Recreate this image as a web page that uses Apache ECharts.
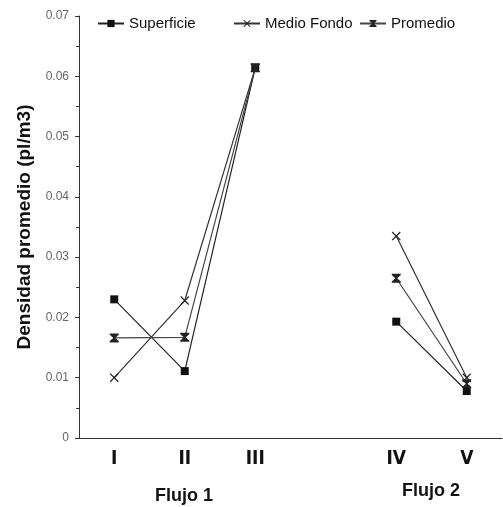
<!DOCTYPE html>
<html>
<head>
<meta charset="utf-8">
<script src="https://cdn.jsdelivr.net/npm/echarts@6/dist/echarts.min.js"></script>
<style>
  html, body { margin: 0; padding: 0; background: #fff; }
  #chart { width: 503px; height: 507px; }
</style>
</head>
<body>
<div id="chart"></div>
<script>
// categorias (la posicion vacia separa Flujo 1 de Flujo 2)
var categorias = ["I", "II", "III", "", "IV", "V"];
// densidad promedio por estacion
var superficie = [0.0230, 0.0111, 0.0614, null, 0.0193, 0.0078];
var medioFondo = [0.0100, 0.0228, 0.0614, null, 0.0335, 0.0100];
var promedio = [0.0166, 0.0167, 0.0614, null, 0.0265, 0.0090];
var yTicks = [0, 0.01, 0.02, 0.03, 0.04, 0.05, 0.06, 0.07];

var cruz = "path://M0,1 L1,0 L5,4 L9,0 L10,1 L6,5 L10,9 L9,10 L5,6 L1,10 L0,9 L4,5 Z";
var reloj = "path://M0,0 L10,0 L10,1.5 L6,5 L10,8.5 L10,10 L0,10 L0,8.5 L4,5 L0,1.5 Z";

var legendText = { fontSize: 15, color: "#111", fontFamily: "Liberation Sans, Arial, sans-serif" };
function leyenda(nombre, x) {
  return {
    left: x,
    top: 11,
    itemWidth: 26,
    itemHeight: 9,
    itemGap: 5,
    textStyle: legendText,
    data: [nombre]
  };
}

var myChart = echarts.init(document.getElementById("chart"));
myChart.setOption({
  animation: false,
  textStyle: { fontFamily: "Liberation Sans, Arial, sans-serif" },
  legend: [
    leyenda("Superficie", 92),
    leyenda("Medio Fondo", 228),
    leyenda("Promedio", 354)
  ],
  grid: { left: 79, right: 1, top: 16, bottom: 69 },
  xAxis: {
    type: "category",
    data: categorias,
    axisLine: { lineStyle: { color: "#333", width: 1 } },
    axisTick: { alignWithLabel: true, length: 5, lineStyle: { color: "#333" } },
    axisLabel: {
      margin: 12,
      fontSize: 19,
      fontWeight: "bold",
      color: "#111",
      fontFamily: "DejaVu Sans Condensed, Liberation Sans, sans-serif"
    },
    splitLine: { show: false }
  },
  yAxis: {
    type: "value",
    min: yTicks[0],
    max: yTicks[yTicks.length - 1],
    interval: 0.01,
    name: "Densidad promedio (pl/m3)",
    nameLocation: "middle",
    nameGap: 31,
    nameTextStyle: { fontSize: 19, fontWeight: "bold", color: "#111" },
    axisLine: { show: true, lineStyle: { color: "#333", width: 1 } },
    axisTick: { show: true, length: 4, lineStyle: { color: "#333" } },
    minorTick: { show: true, splitNumber: 2, length: 3, lineStyle: { color: "#333" } },
    axisLabel: {
      fontSize: 12,
      color: "#666",
      margin: 10,
      formatter: function (v) { return v === 0 ? "0" : v.toFixed(2); }
    },
    splitLine: { show: false }
  },
  series: [
    {
      name: "Superficie",
      type: "line",
      data: superficie,
      symbol: "rect",
      symbolSize: 8,
      connectNulls: false,
      lineStyle: { color: "#222", width: 1.2 },
      itemStyle: { color: "#111" }
    },
    {
      name: "Medio Fondo",
      type: "line",
      data: medioFondo,
      symbol: cruz,
      symbolSize: 9,
      connectNulls: false,
      lineStyle: { color: "#333", width: 1.2 },
      itemStyle: { color: "#222" }
    },
    {
      name: "Promedio",
      type: "line",
      data: promedio,
      symbol: reloj,
      symbolSize: 9,
      connectNulls: false,
      lineStyle: { color: "#444", width: 1.2 },
      itemStyle: { color: "#222" }
    }
  ],
  graphic: [
    {
      type: "text",
      left: 155,
      top: 487,
      style: { text: "Flujo 1", font: "bold 18px Liberation Sans, Arial, sans-serif", fill: "#111" }
    },
    {
      type: "text",
      left: 402,
      top: 482,
      style: { text: "Flujo 2", font: "bold 18px Liberation Sans, Arial, sans-serif", fill: "#111" }
    }
  ]
});
</script>
</body>
</html>
